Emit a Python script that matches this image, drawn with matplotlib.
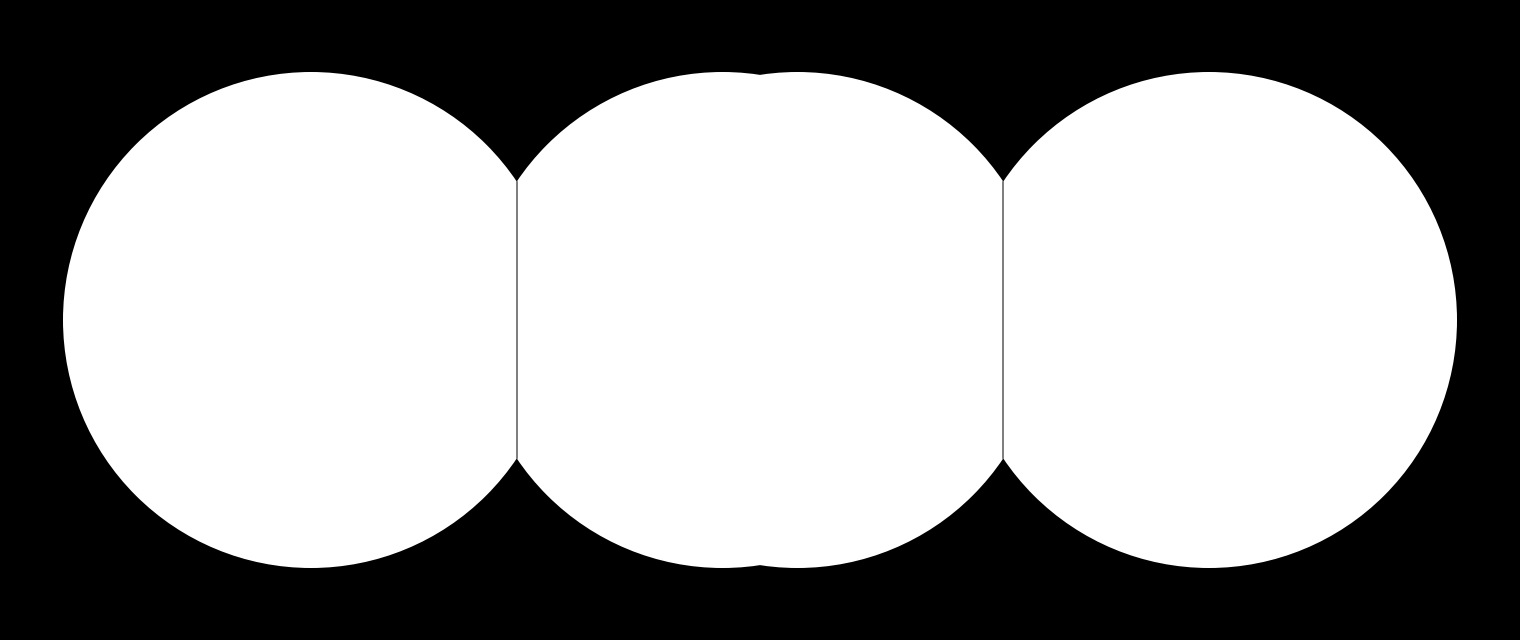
import numpy as np
import matplotlib
matplotlib.use("Agg")
import matplotlib.pyplot as plt
from matplotlib.patches import Circle

# circle centres and radius (pixel units of the canvas)
centers_x = [311, 722.5, 797.5, 1209]
centers_y = [320, 320, 320, 320]
radius = 248
# pairs of circles whose common chord is drawn
chord_pairs = [(0, 1), (2, 3)]

fig = plt.figure(figsize=(15.2, 6.4), dpi=100, facecolor="black")
ax = fig.add_axes([0, 0, 1, 1])
ax.set_facecolor("black")

for cx, cy in zip(centers_x, centers_y):
    ax.add_patch(Circle((cx, cy), radius, facecolor="white", edgecolor="none"))

# common chord between two overlapping circles
for i, j in chord_pairs:
    d = centers_x[j] - centers_x[i]
    xm = centers_x[i] + d / 2
    h = np.sqrt(radius ** 2 - (d / 2) ** 2)
    ax.plot([xm, xm], [centers_y[i] - h, centers_y[i] + h], color="#666666", linewidth=1.2)

ax.set_xlim(0, 1520)
ax.set_ylim(640, 0)
ax.set_aspect("equal")
ax.axis("off")

fig.savefig("out.png", dpi=100, facecolor="black")
